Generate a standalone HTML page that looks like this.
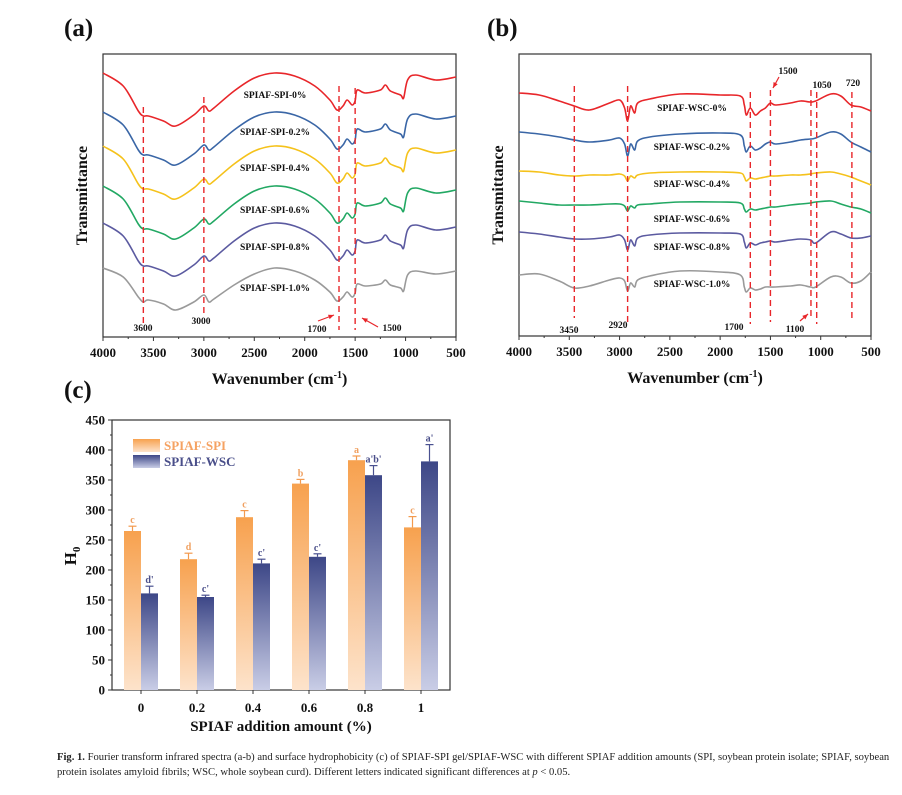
<!DOCTYPE html>
<html><head><meta charset="utf-8"><style>
body{margin:0;background:#fff;width:902px;height:795px;overflow:hidden;font-family:"Liberation Serif",serif}
svg text{font-family:"Liberation Serif",serif}
.cap{position:absolute;left:57px;top:750px;width:840px;font-size:10.6px;line-height:15px;color:#222}
</style></head><body>
<svg id="fig" width="902" height="795" style="position:absolute;left:0;top:0">
<defs>
<linearGradient id="gO" x1="0" y1="0" x2="0" y2="1"><stop offset="0" stop-color="#f7a14e"/><stop offset="1" stop-color="#fde3cb"/></linearGradient>
<linearGradient id="gB" x1="0" y1="0" x2="0" y2="1"><stop offset="0" stop-color="#3d4787"/><stop offset="1" stop-color="#c9cde6"/></linearGradient>
</defs>
</svg>
<div class="cap"><b>Fig. 1.</b> Fourier transform infrared spectra (a-b) and surface hydrophobicity (c) of SPIAF-SPI gel/SPIAF-WSC with different SPIAF addition amounts (SPI, soybean protein isolate; SPIAF, soybean protein isolates amyloid fibrils; WSC, whole soybean curd). Different letters indicated significant differences at <i>p</i> &lt; 0.05.</div>
<script>
// ---- Panel (a) data ----
const wnA=[4000,3800,3650,3600,3550,3400,3280,3100,3000,2950,2900,2700,2500,2300,2100,1900,1750,1680,1620,1580,1530,1500,1480,1400,1250,1200,1150,1050,1020,980,900,700,500];
const spi0=[264,251,226,221,221,216,211,222,231,226,229,246,259,264,261,251,237,227,231,237,232,236,247,244,247,252,246,242,239,257,262,257,260];
const spi02=[225,212,187,182,182,177,172,183,192,187,190,207,220,225,222,212,198,188,192,198,193,197,208,205,208,213,207,203,200,218,223,218,221];
const spi04=[191,178,153,148,148,143,138,149,158,153,156,173,186,191,188,178,164,154,158,164,159,163,174,171,174,179,173,169,166,184,189,184,187];
const spi06=[151,138,113,108,108,103,98,109,118,113,116,133,146,151,148,138,124,114,118,124,119,123,134,131,134,139,133,129,126,144,149,144,147];
const spi08=[114,101,76,71,71,66,61,72,81,76,79,96,109,114,111,101,87,77,81,87,82,86,97,94,97,102,96,92,89,107,112,107,110];
const spi10=[69,60,40,35,37,33,27,35,42,35,38,52,63,69,66,57,45,36,40,45,40,44,53,51,53,57,52,49,46,62,66,63,66];
const labelsA=["SPIAF-SPI-0%","SPIAF-SPI-0.2%","SPIAF-SPI-0.4%","SPIAF-SPI-0.6%","SPIAF-SPI-0.8%","SPIAF-SPI-1.0%"];
const markA=[3600,3000,1660,1500];
// ---- Panel (b) data ----
const wnB=[4000,3800,3600,3450,3300,3100,3000,2950,2920,2890,2850,2820,2700,2400,2000,1800,1760,1740,1700,1650,1600,1550,1500,1450,1300,1200,1100,1050,900,800,700,600,500];
const wsc0=[243,241,235,230,226,233,236,228,215,230,223,233,237,242,241,240,231,221,228,221,225,228,233,231,233,235,234,235,242,240,231,229,225];
const wsc02=[204,202,199,196,194,196,198,192,180,192,186,195,199,202,203,201,190,184,190,186,188,192,194,192,194,196,197,198,204,202,194,189,184];
const wsc04=[165,164,161,160,161,161,162,160,155,160,158,161,163,164,164,163,159,155,158,157,158,159,160,160,161,161,162,163,164,162,159,155,151];
const wsc06=[135,133,131,131,131,132,132,130,125,130,128,131,132,134,134,133,127,124,127,126,127,128,129,129,131,132,133,134,135,132,129,127,123];
const wsc08=[104,102,99,97,97,99,101,96,86,96,90,98,101,103,103,102,94,88,93,91,93,94,95,94,96,97,96,93,104,102,98,98,100];
const wsc10=[61,62,55,48,50,56,58,55,45,53,49,56,60,65,64,61,49,44,48,46,47,49,49,49,50,51,49,49,59,59,53,55,64];
const labelsB=["SPIAF-WSC-0%","SPIAF-WSC-0.2%","SPIAF-WSC-0.4%","SPIAF-WSC-0.6%","SPIAF-WSC-0.8%","SPIAF-WSC-1.0%"];
const markB=[3450,2920,1700,1500,1097,1040,690];
const xTicks=[4000,3500,3000,2500,2000,1500,1000,500];
// ---- Panel (c) data ----
const cats=["0","0.2","0.4","0.6","0.8","1"];
const spiH=[265,218,288,344,383,271];
const spiErr=[8,10,11,7,7,18];
const wscH=[161,155,211,222,358,381];
const wscErr=[12,3,7,5,16,28];
const spiLet=["c","d","c","b","a","c"];
const wscLet=["d'","c'","c'","c'","a'b'","a'"];
const yTicksC=[0,50,100,150,200,250,300,350,400,450];

const colors=["#e8262a","#3a66a6","#f5c21b","#22a863","#5b5aa0","#9a9a9a"];
const svg=document.getElementById('fig');
const NS="http://www.w3.org/2000/svg";
function mk(tag,attrs,parent){const e=document.createElementNS(NS,tag);for(const k in attrs)e.setAttribute(k,attrs[k]);(parent||svg).appendChild(e);return e;}
function txt(s,x,y,size,attrs,parent){const e=mk('text',Object.assign({x:x,y:y,'font-size':size,'font-weight':'bold','text-anchor':'middle',fill:'#111'},attrs||{}),parent);e.textContent=s;return e;}
function smooth(pts){let d="M"+pts[0][0].toFixed(1)+","+pts[0][1].toFixed(1);for(let i=0;i<pts.length-1;i++){const p0=pts[Math.max(0,i-1)],p1=pts[i],p2=pts[i+1],p3=pts[Math.min(pts.length-1,i+2)];const c1=[p1[0]+(p2[0]-p0[0])/6,p1[1]+(p2[1]-p0[1])/6],c2=[p2[0]-(p3[0]-p1[0])/6,p2[1]-(p3[1]-p1[1])/6];d+="C"+c1[0].toFixed(1)+","+c1[1].toFixed(1)+" "+c2[0].toFixed(1)+","+c2[1].toFixed(1)+" "+p2[0].toFixed(1)+","+p2[1].toFixed(1);}return d;}

function spectrum(P){
  const g=mk('g',{});
  
  
  const X=w=>P.x0+(4000-w)/3500*(P.x1-P.x0);
  const Y=v=>P.y1-v;
  mk('rect',{x:P.x0,y:P.y0,width:P.x1-P.x0,height:P.y1-P.y0,fill:'none',stroke:'#333','stroke-width':1.2},g);
  P.series.forEach((s,i)=>{
    const p=mk('path',{d:smooth(P.wn.map((w,j)=>[X(w),Y(s[j])])),fill:'none',stroke:colors[i],'stroke-width':1.6},g);
    
    
    const t=txt(P.labels[i],P.lx,P.ly[i],9.5,{},g);
    
    
  });
  P.marks.forEach((w,i)=>{
    const l=mk('line',{x1:X(w),x2:X(w),y1:P.my[i][0],y2:P.my[i][1],stroke:'#e8262a','stroke-width':1.4,'stroke-dasharray':'6,4'},g);
    
    
  });
  xTicks.forEach(w=>{
    mk('line',{x1:X(w),x2:X(w),y1:P.y1,y2:P.y1+4,stroke:'#333'},g);
    const t=txt(String(w),X(w),P.y1+20,13,{},g);
    
    
  });
  for(let w=3750;w>500;w-=500) mk('line',{x1:X(w),x2:X(w),y1:P.y1,y2:P.y1+2,stroke:'#333'},g);
  const xl=txt('',(P.x0+P.x1)/2,P.y1+47,16,{},g);
  xl.innerHTML='Wavenumber (cm<tspan dy="-6" font-size="10">-1</tspan><tspan dy="6">)</tspan>';
  
  
  const yl=txt('Transmittance',0,0,16,{transform:'translate('+(P.x0-16)+','+((P.y0+P.y1)/2)+') rotate(-90)'},g);
  
  
  const pl=txt(P.tag,P.tx,36,25,{'text-anchor':'start'},g);
  
  
  P.ann.forEach(a=>{const t=txt(a[0],a[1],a[2],9.5,{},g);});
  P.arrows.forEach(a=>{
    mk('line',{x1:a[0],y1:a[1],x2:a[2],y2:a[3],stroke:'#e8262a','stroke-width':1.2},g);
    const ang=Math.atan2(a[3]-a[1],a[2]-a[0]);
    const h=6;mk('polygon',{points:[a[2],a[3],a[2]-h*Math.cos(ang-0.4),a[3]-h*Math.sin(ang-0.4),a[2]-h*Math.cos(ang+0.4),a[3]-h*Math.sin(ang+0.4)].join(','),fill:'#e8262a'},g);
  });
}
spectrum({name:'panel-a-ftir',tag:'(a)',tx:64,x0:103,x1:456,y0:54,y1:337,wn:wnA,series:[spi0,spi02,spi04,spi06,spi08,spi10],labels:labelsA,lx:275,ly:[98,135,171,213,250,291],marks:markA,my:[[107,324],[97,316],[86,330],[88,330]],
  ann:[['3600',143,331],['3000',201,324],['1700',317,332],['1500',392,331]],arrows:[[318,321,334,315],[378,327,362,318]]});
spectrum({name:'panel-b-ftir',tag:'(b)',tx:487,x0:519,x1:871,y0:54,y1:336,wn:wnB,series:[wsc0,wsc02,wsc04,wsc06,wsc08,wsc10],labels:labelsB,lx:692,ly:[111,150,187,222,250,287],marks:markB,my:[[86,318],[86,324],[92,324],[90,322],[90,320],[92,324],[92,320]],
  ann:[['3450',569,333],['2920',618,328],['1700',734,330],['1100',795,332],['1500',788,74],['1050',822,88],['720',853,86]],arrows:[[800,321,808,314],[779,77,773,88]]});

// ---- Panel (c) bar chart ----
(function(){
  const g=mk('g',{});
  
  
  const x0=112,x1=450,y0=420,y1=690;
  const Y=v=>y1-v*(y1-y0)/450;
  const X=i=>141+i*56;
  const bw=17;
  mk('rect',{x:x0,y:y0,width:x1-x0,height:y1-y0,fill:'none',stroke:'#333','stroke-width':1.2},g);
  yTicksC.forEach(v=>{
    mk('line',{x1:x0-4,x2:x0,y1:Y(v),y2:Y(v),stroke:'#333'},g);
    const t=txt(String(v),x0-7,Y(v)+4.5,13,{'text-anchor':'end'},g);
    
    
  });
  for(let v=25;v<450;v+=50) mk('line',{x1:x0-2,x2:x0,y1:Y(v),y2:Y(v),stroke:'#333'},g);
  cats.forEach((c,i)=>{
    mk('line',{x1:X(i),x2:X(i),y1:y1,y2:y1+4,stroke:'#333'},g);
    const t=txt(c,X(i),y1+22,13,{},g);
    
    
    [[spiH,spiErr,spiLet,'url(#gO)','#f39a4e',X(i)-bw,'#f0a060','bar-spi'],[wscH,wscErr,wscLet,'url(#gB)','#4a5190',X(i),'#4a4f8a','bar-wsc']].forEach(s=>{
      const v=s[0][i],e=s[1][i],cx=s[5]+bw/2;
      const r=mk('rect',{x:s[5],y:Y(v),width:bw,height:y1-Y(v),fill:s[3]},g);
      
      
      mk('line',{x1:cx,x2:cx,y1:Y(v),y2:Y(v+e),stroke:s[4],'stroke-width':1.2},g);
      mk('line',{x1:cx-4,x2:cx+4,y1:Y(v+e),y2:Y(v+e),stroke:s[4],'stroke-width':1.2},g);
      const t=txt(s[2][i],cx,Y(v+e)-3,10,{fill:s[6]},g);
      
      
    });
  });
  const l1=mk('rect',{x:133,y:439,width:27,height:13,fill:'url(#gO)'},g);
  
  
  const l2=mk('rect',{x:133,y:455,width:27,height:13,fill:'url(#gB)'},g);
  
  
  const t1=txt('SPIAF-SPI',164,450,13,{'text-anchor':'start',fill:'#f5a262'},g);
  
  
  const t2=txt('SPIAF-WSC',164,466,13,{'text-anchor':'start',fill:'#4a4f8a'},g);
  
  
  const xl=txt('SPIAF addition amount (%)',281,731,15,{},g);
  
  
  const yl=txt('',0,0,17,{transform:'translate(76,556) rotate(-90)'},g);
  yl.innerHTML='H<tspan dy="4" font-size="11">0</tspan>';
  
  
  const pl=txt('(c)',64,398,25,{'text-anchor':'start'},g);
  
  
})();
</script>
</body></html>
